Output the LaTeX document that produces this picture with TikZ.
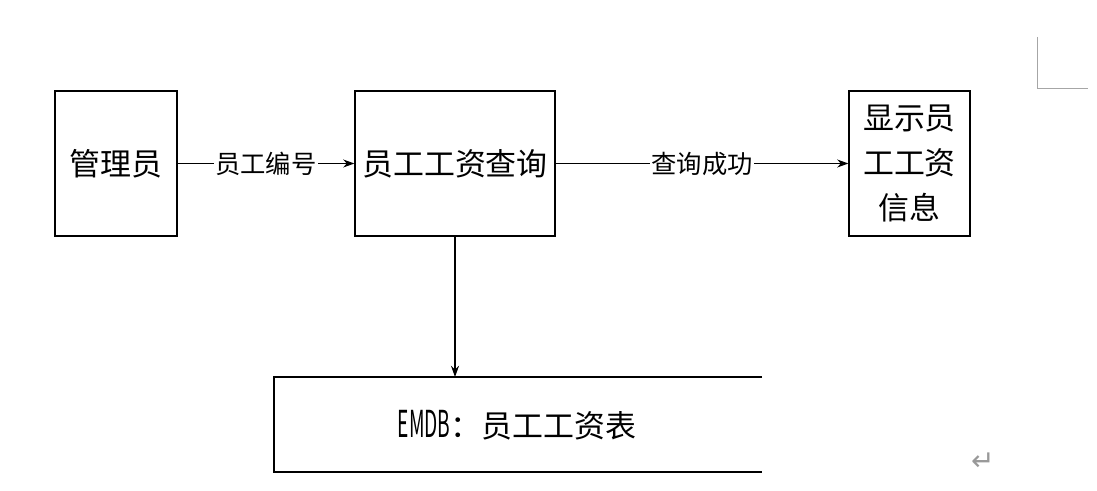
\documentclass[tikz,border=0pt]{standalone}
\usepackage{fontspec}
\setmainfont{Noto Sans CJK SC}
\newfontfamily\symfont{DejaVu Sans}
\usetikzlibrary{arrows.meta}
\tikzset{
    box/.style={draw,line width=0.85pt,align=center,inner sep=0pt,minimum height=3.625cm,font=\fontsize{22}{32}\selectfont},
    flow/.style={line width=0.85pt,-{Stealth[length=2.8mm,width=2mm]}},
    flowlabel/.style={fill=white,inner sep=1pt,font=\fontsize{18}{22}\selectfont},
    pagemark/.style={gray!70,line width=0.6pt}
}
\begin{document}
\begin{tikzpicture}[x=0.025cm,y=-0.025cm]
        \useasboundingbox (0,0) rectangle (1097,491);
        %% process boxes
        \node[box,minimum width=3.05cm] (admin) at (116,163.5) {管理员};
        \node[box,minimum width=5cm] (query) at (455,163.5) {员工工资查询};
        \node[box,minimum width=3.025cm] (show) at (909.5,163.5) {显示员\\工工资\\信息};
        %% data store, open on the right
        \coordinate (tabtop) at (455,377);
        \draw[line width=0.85pt] (762,377) -- (274,377) -- (274,472) -- (762,472);
        \node[font=\fontsize{22}{24}\selectfont] (table) at (517,425) {\scalebox{0.62}[1.2]{EMDB}：员工工资表};
        %% flows
        \draw[flow] (admin.east) -- (query.west)
            node[flowlabel,midway] (idlabel) {员工编号};
        \draw[flow] (query.east) -- (show.west)
            node[flowlabel,midway] (oklabel) {查询成功};
        \draw[flow] (query.south) -- (tabtop);
        %% page marks
        \draw[pagemark] (1037,37) -- (1037,88) -- (1088,88);
        \node[gray!80,font=\symfont\fontsize{20}{20}\selectfont] (ret) at (983,462) {↵};
\end{tikzpicture}
\end{document}
